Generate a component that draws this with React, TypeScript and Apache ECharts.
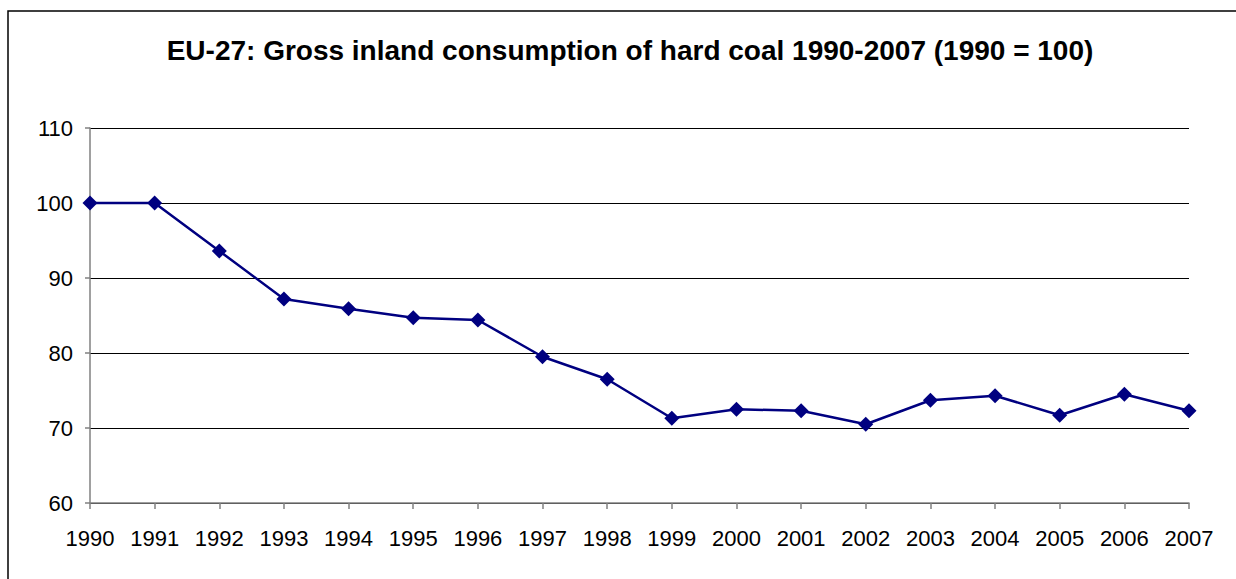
import React, { useEffect, useRef } from "react";
import * as echarts from "echarts";

const years = ["1990","1991","1992","1993","1994","1995","1996","1997","1998","1999","2000","2001","2002","2003","2004","2005","2006","2007"];
const values = [100, 100, 93.6, 87.2, 85.9, 84.7, 84.4, 79.5, 76.5, 71.3, 72.5, 72.3, 70.5, 73.7, 74.3, 71.7, 74.5, 72.3];
const titleText = "EU-27: Gross inland consumption of hard coal 1990-2007 (1990 = 100)";

const FONT = "'Liberation Sans', Arial, sans-serif";

export default function App() {
  const ref = useRef<HTMLDivElement>(null);
  useEffect(() => {
    if (!ref.current) return;
    const chart = echarts.init(ref.current, null, { renderer: "svg" });
    chart.setOption({
      animation: false,
      backgroundColor: "#ffffff",
      textStyle: { fontFamily: FONT },
      title: {
        text: titleText,
        left: 625,
        top: 31,
        textAlign: "center",
        textStyle: { fontSize: 28, fontWeight: "bold", color: "#000", fontFamily: FONT },
      },
      graphic: [
        {
          type: "rect",
          shape: { x: 8, y: 11, width: 1300, height: 700 },
          style: { fill: "none", stroke: "#000", lineWidth: 1.5 },
          z: -1,
        },
      ],
      grid: { left: 90, right: 47, top: 128, bottom: 76 },
      xAxis: {
        type: "category",
        data: years,
        boundaryGap: false,
        axisLine: { lineStyle: { color: "#808080", width: 1.5 } },
        axisTick: { length: 6, lineStyle: { color: "#808080", width: 1.5 } },
        axisLabel: { color: "#000", fontSize: 22, margin: 24, fontFamily: FONT },
        splitLine: { show: false },
      },
      yAxis: {
        type: "value",
        min: 60,
        max: 110,
        interval: 10,
        axisLine: { show: true, lineStyle: { color: "#808080", width: 1.5 } },
        axisTick: { show: true, length: 5, lineStyle: { color: "#808080", width: 1.5 } },
        axisLabel: { color: "#000", fontSize: 22, margin: 17, fontFamily: FONT },
        splitLine: { show: true, lineStyle: { color: "#000", width: 1 } },
      },
      series: [
        {
          type: "line",
          data: values,
          symbol: "diamond",
          symbolSize: 15,
          itemStyle: { color: "#000080" },
          lineStyle: { color: "#000080", width: 2.5 },
        },
      ],
    });
    return () => chart.dispose();
  }, []);
  return <div ref={ref} style={{ position: "fixed", left: 0, top: 0, width: 1236, height: 579 }} />;
}
